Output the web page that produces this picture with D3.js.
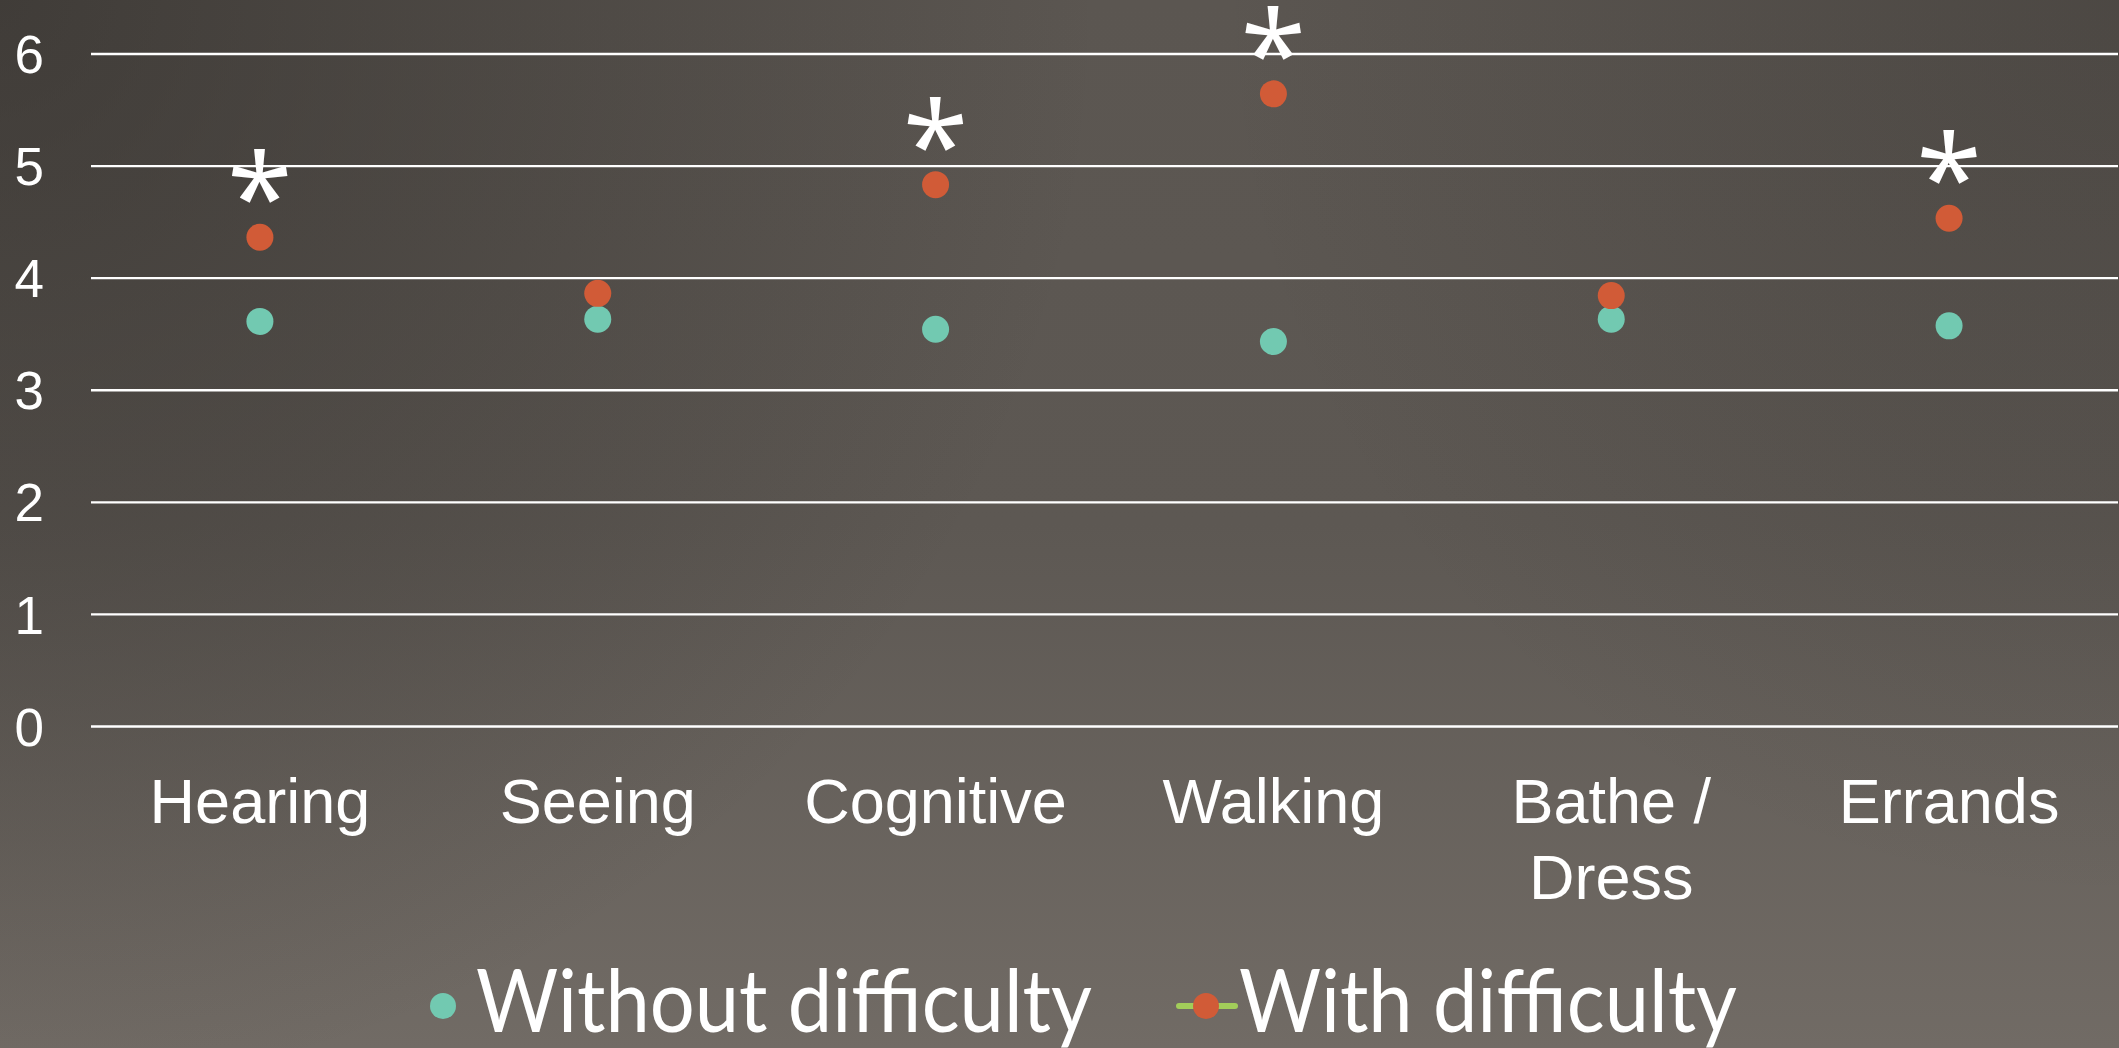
<!DOCTYPE html>
<html>
<head>
<meta charset="utf-8">
<script src="https://cdn.jsdelivr.net/npm/d3@7"></script>
<style>
  html, body { margin: 0; padding: 0; overflow: hidden; background: #55504b; }
  svg { display: block; }
</style>
</head>
<body>
<script>
// ---- data ----
const categories = ["Hearing", "Seeing", "Cognitive", "Walking", "Bathe /\nDress", "Errands"];
const withoutDifficulty = [3.61, 3.63, 3.54, 3.43, 3.63, 3.57];
const withDifficulty = [4.36, 3.86, 4.83, 5.64, 3.84, 4.53];
const significant = [true, false, true, true, false, true];
const yTicks = [0, 1, 2, 3, 4, 5, 6];
const seriesNames = ["Without difficulty", "With difficulty"];

(function () {
const W = 2119, H = 1048;
const colTeal = "#72c9b1", colOrange = "#d15b37", colGreen = "#a2cd5a";

const svg = d3.select("body").append("svg").attr("width", W).attr("height", H);
const defs = svg.append("defs");

// background
const lg = defs.append("linearGradient").attr("id", "bgv").attr("x1", 0).attr("y1", 0).attr("x2", 0).attr("y2", 1);
lg.append("stop").attr("offset", 0).attr("stop-color", "#5b5651");
lg.append("stop").attr("offset", 0.5).attr("stop-color", "#5d5853");
lg.append("stop").attr("offset", 1).attr("stop-color", "#716b65");
const rg1 = defs.append("radialGradient").attr("id", "tl").attr("gradientUnits", "userSpaceOnUse")
  .attr("cx", 0).attr("cy", 0).attr("r", 1100);
rg1.append("stop").attr("offset", 0).attr("stop-color", "#2a2724").attr("stop-opacity", 0.55);
rg1.append("stop").attr("offset", 1).attr("stop-color", "#2a2724").attr("stop-opacity", 0);
const rg2 = defs.append("radialGradient").attr("id", "tr").attr("gradientUnits", "userSpaceOnUse")
  .attr("cx", W).attr("cy", 0).attr("r", 900);
rg2.append("stop").attr("offset", 0).attr("stop-color", "#2a2724").attr("stop-opacity", 0.3);
rg2.append("stop").attr("offset", 1).attr("stop-color", "#2a2724").attr("stop-opacity", 0);
svg.append("rect").attr("width", W).attr("height", H).attr("fill", "url(#bgv)");
svg.append("rect").attr("width", W).attr("height", H).attr("fill", "url(#tl)");
svg.append("rect").attr("width", W).attr("height", H).attr("fill", "url(#tr)");

// scales
const pLeft = 91, pRight = 2118, pTop = 53.5, pBottom = 726;
const x = d3.scaleBand().domain(categories).range([pLeft, pRight]);
const y = d3.scaleLinear().domain([0, 6]).range([pBottom, pTop]);

// y axis with gridlines
const yAxis = svg.append("g").attr("transform", `translate(${pLeft},0)`)
  .call(d3.axisLeft(y).tickValues(yTicks).tickFormat(d3.format("d"))
    .tickSize(-(pRight - pLeft)).tickPadding(47));
yAxis.select(".domain").remove();
yAxis.selectAll(".tick line").attr("stroke", "#ffffff").attr("stroke-width", 2.4);
yAxis.selectAll(".tick text").attr("fill", "#ffffff")
  .style("font-family", "'Liberation Sans', Arial, sans-serif").style("font-size", "53px")
  .attr("dy", "0.36em");

// x axis labels
const xAxis = svg.append("g").attr("transform", `translate(0,${pBottom})`)
  .call(d3.axisBottom(x).tickSize(0).tickFormat(""));
xAxis.select(".domain").remove();
xAxis.selectAll(".tick").each(function(d) {
  const t = d3.select(this).append("text").attr("fill", "#ffffff").attr("text-anchor", "middle")
    .style("font-family", "'Liberation Sans', Arial, sans-serif").style("font-size", "63px");
  d.split("\n").forEach((line, i) => {
    t.append("tspan").attr("x", 0).attr("y", 97 + i * 76).text(line);
  });
});

const cx = (i) => x(categories[i]) + x.bandwidth() / 2;

// points
svg.append("g").selectAll("circle").data(withoutDifficulty).join("circle")
  .attr("cx", (d, i) => cx(i)).attr("cy", d => y(d)).attr("r", 13.5).attr("fill", colTeal);
svg.append("g").selectAll("circle").data(withDifficulty).join("circle")
  .attr("cx", (d, i) => cx(i)).attr("cy", d => y(d)).attr("r", 13.5).attr("fill", colOrange);

// asterisks (significance labels)
const astSize = 120;
const ctx = document.createElement("canvas").getContext("2d");
ctx.font = `${astSize}px 'Open Sans'`;
const m = ctx.measureText("*");
const glyphMid = (m.actualBoundingBoxAscent - m.actualBoundingBoxDescent) / 2;
svg.append("g").selectAll("text").data(withDifficulty.map((v, i) => ({v, i})).filter(d => significant[d.i]))
  .join("text")
  .attr("x", d => cx(d.i)).attr("y", d => y(d.v) - 61 + glyphMid)
  .attr("text-anchor", "middle").attr("fill", "#ffffff")
  .style("font-family", "'Open Sans', sans-serif").style("font-size", astSize + "px")
  .text("*");

// legend
const leg = svg.append("g");
const legY = 1006;
leg.append("circle").attr("cx", 443).attr("cy", legY).attr("r", 13).attr("fill", colTeal);
leg.append("text").attr("x", 476).attr("y", 1032).attr("fill", "#ffffff")
  .style("font-family", "Lato, 'Open Sans', sans-serif").style("font-size", "88px")
  .attr("textLength", 616).attr("lengthAdjust", "spacingAndGlyphs")
  .text(seriesNames[0]);
leg.append("line").attr("x1", 1179).attr("x2", 1235).attr("y1", legY).attr("y2", legY)
  .attr("stroke", colGreen).attr("stroke-width", 6).attr("stroke-linecap", "round");
leg.append("circle").attr("cx", 1206).attr("cy", legY).attr("r", 13).attr("fill", colOrange);
leg.append("text").attr("x", 1239).attr("y", 1032).attr("fill", "#ffffff")
  .style("font-family", "Lato, 'Open Sans', sans-serif").style("font-size", "88px")
  .attr("textLength", 498).attr("lengthAdjust", "spacingAndGlyphs")
  .text(seriesNames[1]);
})();
</script>
</body>
</html>
